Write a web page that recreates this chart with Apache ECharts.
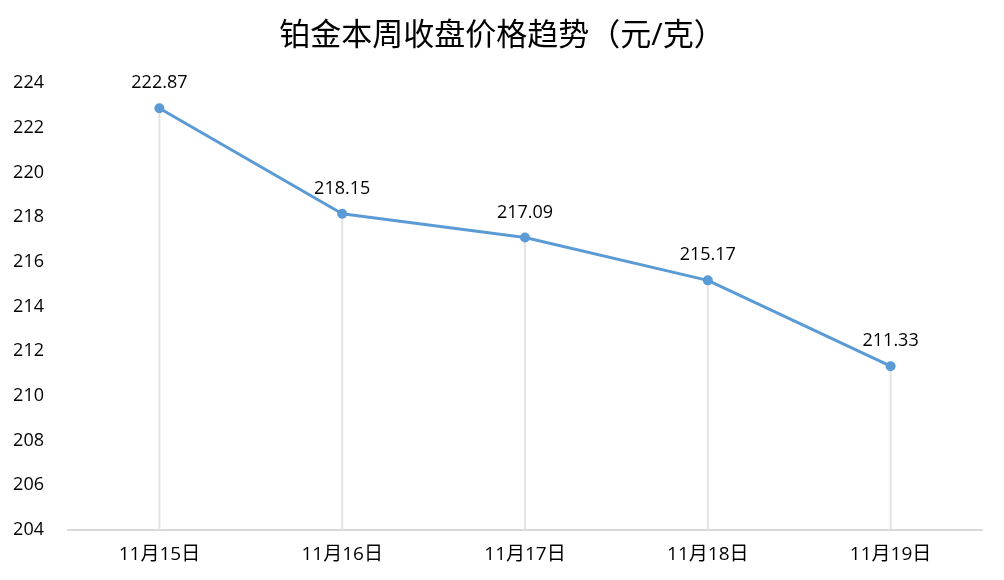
<!DOCTYPE html>
<html><head><meta charset="utf-8">
<script src="https://cdn.jsdelivr.net/npm/echarts@6/dist/echarts.min.js"></script>
<style>html,body{margin:0;padding:0;background:#fff}#c{width:1004px;height:580px}</style>
</head><body><div id="c"></div>
<script>
const titleText = '铂金本周收盘价格趋势（元/克）';
const categories = ['11月15日','11月16日','11月17日','11月18日','11月19日'];
const prices = [222.87, 218.15, 217.09, 215.17, 211.33];
const yMin = 204, yMax = 224, yStep = 2;
const FONT = '"Open Sans","Noto Sans CJK SC",sans-serif';
const chart = echarts.init(document.getElementById('c'));
chart.setOption({
  animation:false,
  backgroundColor:'#fff',
  title:{text:titleText,left:'center',top:16,textStyle:{fontFamily:FONT,fontSize:31,fontWeight:'normal',color:'#000'}},
  grid:{left:68,right:22,top:83,bottom:50,containLabel:false},
  xAxis:{type:'category',data:categories,boundaryGap:true,
    axisLine:{lineStyle:{color:'#d9d9d9',width:2}},axisTick:{show:false},
    axisLabel:{fontFamily:FONT,fontSize:19,color:'#000',margin:15}},
  yAxis:{type:'value',min:yMin,max:yMax,interval:yStep,
    axisLine:{show:false},axisTick:{show:false},splitLine:{show:false},
    axisLabel:{fontFamily:FONT,fontSize:18,color:'#000',margin:24}},
  series:[
    {type:'bar',data:prices,barWidth:2,itemStyle:{color:'#e3e3e3'},silent:true,z:1,barGap:'-100%'},
    {type:'line',data:prices,symbol:'circle',symbolSize:10,z:3,
      lineStyle:{color:'#5b9bd5',width:3},itemStyle:{color:'#5b9bd5'},
      label:{show:true,position:'top',distance:11,fontFamily:FONT,fontSize:18,color:'#000',
        formatter:p=>p.value.toFixed(2)}}
  ]
});
</script></body></html>
